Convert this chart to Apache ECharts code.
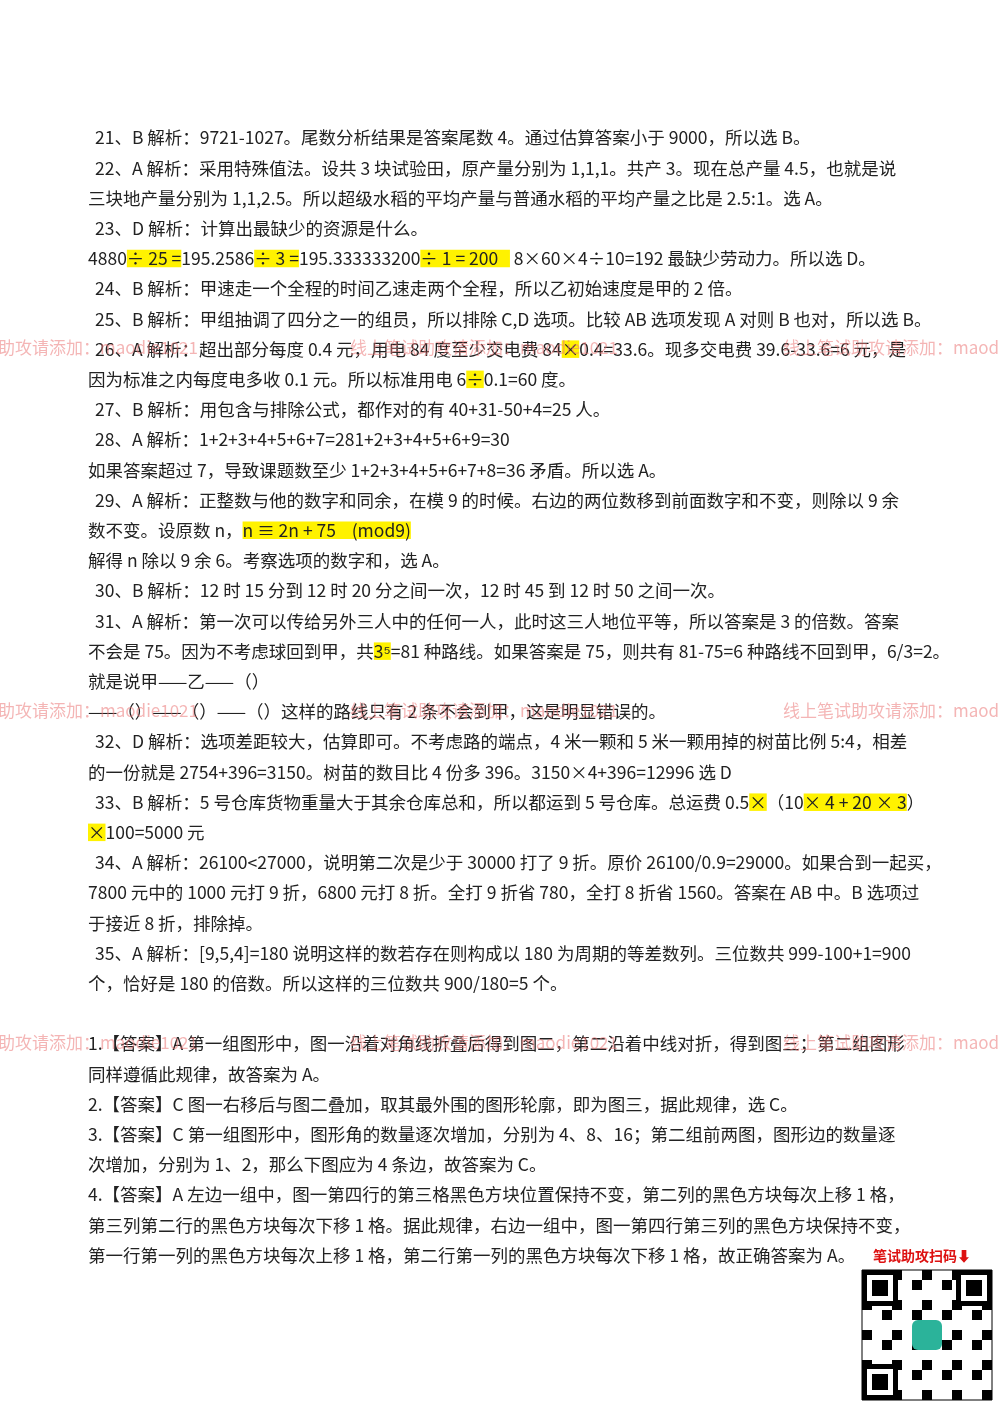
<!DOCTYPE html>
<html><head><meta charset="utf-8">
<script src="https://cdn.jsdelivr.net/npm/echarts@6/dist/echarts.min.js"></script>
<style>html,body{margin:0;padding:0;background:#fff}#c{width:1000px;height:1414px}</style>
</head><body><div id="c"></div>
<script>
const lines = [
"21、B 解析：9721-1027。尾数分析结果是答案尾数 4。通过估算答案小于 9000，所以选 B。",
"22、A 解析：采用特殊值法。设共 3 块试验田，原产量分别为 1,1,1。共产 3。现在总产量 4.5，也就是说",
"三块地产量分别为 1,1,2.5。所以超级水稻的平均产量与普通水稻的平均产量之比是 2.5:1。选 A。",
"23、D 解析：计算出最缺少的资源是什么。",
"4880{h|÷ 25 =}195.2586{h|÷ 3 =}195.333333200{h|÷ 1 = 200   } 8×60×4÷10=192 最缺少劳动力。所以选 D。",
"24、B 解析：甲速走一个全程的时间乙速走两个全程，所以乙初始速度是甲的 2 倍。",
"25、B 解析：甲组抽调了四分之一的组员，所以排除 C,D 选项。比较 AB 选项发现 A 对则 B 也对，所以选 B。",
"26、A 解析：超出部分每度 0.4 元，用电 84 度至少交电费 84{h|×}0.4=33.6。现多交电费 39.6-33.6=6 元，是",
"因为标准之内每度电多收 0.1 元。所以标准用电 6{h|÷}0.1=60 度。",
"27、B 解析：用包含与排除公式，都作对的有 40+31-50+4=25 人。",
"28、A 解析：1+2+3+4+5+6+7=281+2+3+4+5+6+9=30",
"如果答案超过 7，导致课题数至少 1+2+3+4+5+6+7+8=36 矛盾。所以选 A。",
"29、A 解析：正整数与他的数字和同余，在模 9 的时候。右边的两位数移到前面数字和不变，则除以 9 余",
"数不变。设原数 n，{h|n ≡ 2n + 75    (mod9)}",
"解得 n 除以 9 余 6。考察选项的数字和，选 A。",
"30、B 解析：12 时 15 分到 12 时 20 分之间一次，12 时 45 到 12 时 50 之间一次。",
"31、A 解析：第一次可以传给另外三人中的任何一人，此时这三人地位平等，所以答案是 3 的倍数。答案",
"不会是 75。因为不考虑球回到甲，共{h|3⁵}=81 种路线。如果答案是 75，则共有 81-75=6 种路线不回到甲，6/3=2。",
"就是说甲——乙——（）",
"——（）——（）——（）这样的路线只有 2 条不会到甲，这是明显错误的。",
"32、D 解析：选项差距较大，估算即可。不考虑路的端点，4 米一颗和 5 米一颗用掉的树苗比例 5:4，相差",
"的一份就是 2754+396=3150。树苗的数目比 4 份多 396。3150×4+396=12996 选 D",
"33、B 解析：5 号仓库货物重量大于其余仓库总和，所以都运到 5 号仓库。总运费 0.5{h|×}（10{h|× 4 + 20 × 3}）",
"{h|×}100=5000 元",
"34、A 解析：26100<27000，说明第二次是少于 30000 打了 9 折。原价 26100/0.9=29000。如果合到一起买，",
"7800 元中的 1000 元打 9 折，6800 元打 8 折。全打 9 折省 780，全打 8 折省 1560。答案在 AB 中。B 选项过",
"于接近 8 折，排除掉。",
"35、A 解析：[9,5,4]=180 说明这样的数若存在则构成以 180 为周期的等差数列。三位数共 999-100+1=900",
"个，恰好是 180 的倍数。所以这样的三位数共 900/180=5 个。",
"",
"1.【答案】A 第一组图形中，图一沿着对角线折叠后得到图二，第二沿着中线对折，得到图三；第二组图形",
"同样遵循此规律，故答案为 A。",
"2.【答案】C 图一右移后与图二叠加，取其最外围的图形轮廓，即为图三，据此规律，选 C。",
"3.【答案】C 第一组图形中，图形角的数量逐次增加，分别为 4、8、16；第二组前两图，图形边的数量逐",
"次增加，分别为 1、2，那么下图应为 4 条边，故答案为 C。",
"4.【答案】A 左边一组中，图一第四行的第三格黑色方块位置保持不变，第二列的黑色方块每次上移 1 格，",
"第三列第二行的黑色方块每次下移 1 格。据此规律，右边一组中，图一第四行第三列的黑色方块保持不变，",
"第一行第一列的黑色方块每次上移 1 格，第二行第一列的黑色方块每次下移 1 格，故正确答案为 A。"
];
const watermark = "线上笔试助攻请添加：maodie1021";
const watermarkRows = [7, 19, 30];
const watermarkCols = [-70, 350, 783];
const scanLabel = "笔试助攻扫码⬇";

const chart = echarts.init(document.getElementById('c'));
const font = '"Noto Sans CJK SC", sans-serif';
const fs = '17.5px ';
const g = [];
lines.forEach((t, i) => {
  if (!t) return;
  g.push({type:'text', left: /^[0-9]{2}、/.test(t) ? 95 : 88, top:140 + i*30.2 - 11, z:2,
    style:{text:t, font:fs + font, fill:'#222',
      rich:{h:{backgroundColor:'#fff200', font:fs + font, fill:'#222'}}}});
});
watermarkRows.forEach(r => watermarkCols.forEach(x => {
  g.push({type:'text', left:x, top:140 + r*30.2 - 12, z:3,
    style:{text:watermark, font:'17px ' + font, fill:'rgba(235,120,120,0.55)'}});
}));
g.push({type:'text', left:873, top:1249, style:{text:scanLabel, font:'bold 14px ' + font, fill:'#d11'}});
const qx=862, qy=1270, qs=130;
g.push({type:'rect', shape:{x:qx,y:qy,width:qs,height:qs}, style:{fill:'#fff',stroke:'#000',lineWidth:1}});
for (let a=0;a<13;a++) for (let b=0;b<13;b++) {
  if (((a*7+b*11+a*b) % 3)===0) g.push({type:'rect', shape:{x:qx+a*10,y:qy+b*10,width:10,height:10}, style:{fill:'#000'}});
}
[[0,0],[1,0],[0,1]].forEach(([a,b])=>{
  const x=qx+a*(qs-36), y=qy+b*(qs-36);
  g.push({type:'rect', shape:{x:x,y:y,width:36,height:36}, style:{fill:'#000'}});
  g.push({type:'rect', shape:{x:x+5,y:y+5,width:26,height:26}, style:{fill:'#fff'}});
  g.push({type:'rect', shape:{x:x+10,y:y+10,width:16,height:16}, style:{fill:'#000'}});
});
g.push({type:'rect', shape:{x:qx+50,y:qy+50,width:30,height:30,r:6}, style:{fill:'#2bb39a'}});
chart.setOption({backgroundColor:'#fff', graphic:g});
</script></body></html>
